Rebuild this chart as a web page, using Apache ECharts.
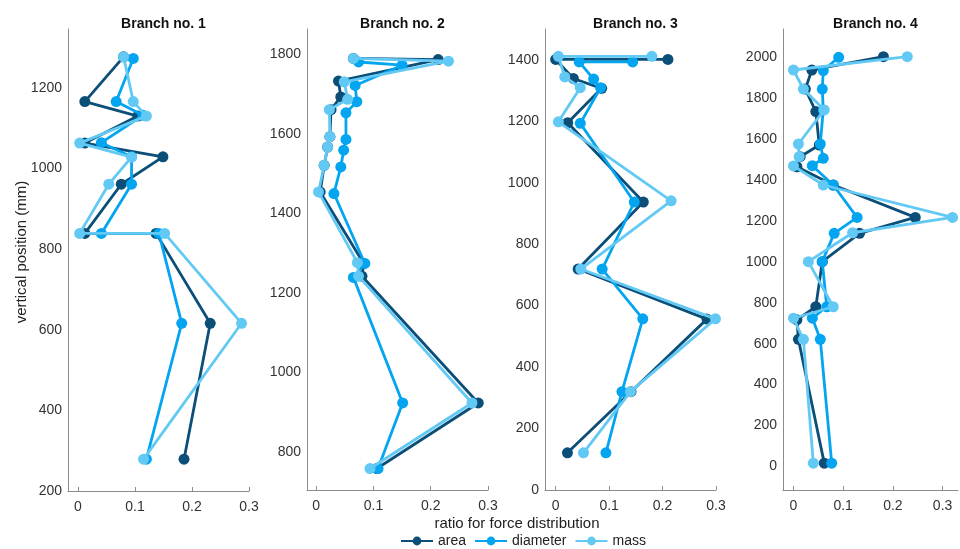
<!DOCTYPE html>
<html>
<head>
<meta charset="utf-8">
<script src="https://cdn.jsdelivr.net/npm/echarts@6/dist/echarts.min.js"></script>
<style>
html,body{margin:0;padding:0;background:#fff;}
#main{width:960px;height:549px;}
</style>
</head>
<body>
<div id="main"></div>
<script>
// ---- data ----
const seriesNames = ['area', 'diameter', 'mass'];
const panelTitles = ['Branch no. 1', 'Branch no. 2', 'Branch no. 3', 'Branch no. 4'];
const xTicks = [0, 0.1, 0.2, 0.3];
const yTicks1 = [200, 400, 600, 800, 1000, 1200];
const yTicks2 = [800, 1000, 1200, 1400, 1600, 1800];
const yTicks3 = [0, 200, 400, 600, 800, 1000, 1200, 1400];
const yTicks4 = [0, 200, 400, 600, 800, 1000, 1200, 1400, 1600, 1800, 2000];

// Branch 1
const b1AreaX = [0.080, 0.012, 0.105, 0.012, 0.149, 0.076, 0.012, 0.137, 0.232, 0.186];
const b1AreaY = [1277, 1166, 1130, 1063, 1029, 961, 839, 839, 616, 279];
const b1DiamX = [0.097, 0.067, 0.114, 0.041, 0.094, 0.094, 0.041, 0.142, 0.182, 0.120];
const b1DiamY = [1273, 1166, 1132, 1064, 1029, 961, 839, 839, 616, 279];
const b1MassX = [0.080, 0.097, 0.120, 0.003, 0.094, 0.054, 0.003, 0.152, 0.287, 0.115];
const b1MassY = [1277, 1166, 1130, 1063, 1028, 961, 839, 839, 616, 279];

// Branch 2
const b2AreaX = [0.065, 0.213, 0.039, 0.043, 0.026, 0.024, 0.020, 0.014, 0.007, 0.083, 0.080, 0.283, 0.106];
const b2AreaY = [1790, 1787, 1733, 1693, 1661, 1593, 1567, 1521, 1454, 1274, 1242, 923, 758];
const b2DiamX = [0.074, 0.150, 0.068, 0.071, 0.052, 0.052, 0.048, 0.043, 0.031, 0.085, 0.065, 0.151, 0.108];
const b2DiamY = [1781, 1773, 1722, 1681, 1653, 1586, 1559, 1517, 1450, 1274, 1239, 923, 758];
const b2MassX = [0.065, 0.231, 0.049, 0.055, 0.023, 0.024, 0.020, 0.014, 0.004, 0.072, 0.074, 0.272, 0.094];
const b2MassY = [1790, 1783, 1731, 1687, 1661, 1593, 1567, 1521, 1454, 1276, 1242, 923, 758];

// Branch 3
const b3AreaX = [0.210, 0.000, 0.033, 0.086, 0.0225, 0.164, 0.042, 0.283, 0.141, 0.022];
const b3AreaY = [1401, 1401, 1339, 1307, 1195, 937, 719, 556, 320, 121];
const b3DiamX = [0.144, 0.044, 0.071, 0.084, 0.046, 0.147, 0.087, 0.163, 0.124, 0.094];
const b3DiamY = [1393, 1393, 1337, 1309, 1193, 937, 719, 557, 320, 121];
const b3MassX = [0.180, 0.005, 0.017, 0.046, 0.005, 0.216, 0.047, 0.299, 0.140, 0.052];
const b3MassY = [1411, 1411, 1344, 1309, 1198, 941, 719, 557, 320, 121];

// Branch 4
const b4AreaX = [0.181, 0.037, 0.024, 0.045, 0.052, 0.0135, 0.007, 0.080, 0.245, 0.133, 0.058, 0.045, 0.007, 0.010, 0.062];
const b4AreaY = [2000, 1935, 1842, 1732, 1569, 1512, 1463, 1374, 1216, 1138, 1000, 780, 716, 621, 17];
const b4DiamX = [0.091, 0.060, 0.058, 0.060, 0.054, 0.060, 0.038, 0.080, 0.128, 0.082, 0.058, 0.067, 0.038, 0.054, 0.077];
const b4DiamY = [1997, 1932, 1842, 1740, 1574, 1504, 1468, 1374, 1216, 1138, 1000, 780, 724, 621, 17];
const b4MassX = [0.229, 0.000, 0.020, 0.062, 0.010, 0.0115, 0.000, 0.060, 0.320, 0.119, 0.030, 0.080, 0.000, 0.020, 0.040];
const b4MassY = [2000, 1935, 1842, 1740, 1574, 1512, 1467, 1374, 1216, 1141, 1000, 780, 724, 621, 17];

// ---- layout / style ----
const colors = ['#0b4e78', '#04a5f0', '#62c9f4'];
const FONT = "'Liberation Sans', Arial, Helvetica, sans-serif";
const grids = [
  {left: 68, top: 29, width: 181, height: 462},
  {left: 307, top: 29, width: 181, height: 461},
  {left: 545, top: 29, width: 171, height: 461},
  {left: 783, top: 29, width: 175, height: 461}
];
const xRanges = [[-0.0175, 0.3], [-0.016, 0.3], [-0.02, 0.3], [-0.021, 0.331]];
const yRanges = [[200, 1346], [704, 1864], [0, 1500], [-114, 2135]];
const yTickSets = [yTicks1, yTicks2, yTicks3, yTicks4];

const panels = [
  [[b1AreaX, b1AreaY], [b1DiamX, b1DiamY], [b1MassX, b1MassY]],
  [[b2AreaX, b2AreaY], [b2DiamX, b2DiamY], [b2MassX, b2MassY]],
  [[b3AreaX, b3AreaY], [b3DiamX, b3DiamY], [b3MassX, b3MassY]],
  [[b4AreaX, b4AreaY], [b4DiamX, b4DiamY], [b4MassX, b4MassY]]
];

const axisColor = '#8c8c8c';
const labelColor = '#333333';

const xAxes = [], yAxes = [], series = [], titles = [];
panels.forEach((p, i) => {
  xAxes.push({
    type: 'value', gridIndex: i, min: xRanges[i][0], max: xRanges[i][1],
    axisLine: {show: true, onZero: false, lineStyle: {color: axisColor, width: 1}},
    axisTick: {show: true, inside: true, length: 4, customValues: xTicks, lineStyle: {color: axisColor}},
    axisLabel: {customValues: xTicks, color: labelColor, fontSize: 14, fontFamily: FONT, margin: 9,
      formatter: v => String(+(+v).toFixed(1))},
    splitLine: {show: false}
  });
  yAxes.push({
    type: 'value', gridIndex: i, min: yRanges[i][0], max: yRanges[i][1],
    axisLine: {show: true, onZero: false, lineStyle: {color: axisColor, width: 1}},
    axisTick: {show: false},
    axisLabel: {customValues: yTickSets[i], color: labelColor, fontSize: 14, fontFamily: FONT, margin: 6,
      formatter: v => String(Math.round(+v))},
    splitLine: {show: false}
  });
  titles.push({
    text: panelTitles[i],
    left: grids[i].left + grids[i].width / 2,
    textAlign: 'center',
    top: 12,
    textStyle: {fontSize: 14, fontWeight: 'bold', color: '#111', fontFamily: FONT}
  });
  p.forEach((s, k) => {
    series.push({
      type: 'line', name: seriesNames[k], xAxisIndex: i, yAxisIndex: i,
      data: s[0].map((x, j) => [x, s[1][j]]),
      symbol: 'circle', symbolSize: 11, clip: false,
      lineStyle: {color: colors[k], width: 2.8},
      itemStyle: {color: colors[k]},
      emphasis: {disabled: true},
      z: 2 + k
    });
  });
});

const chart = echarts.init(document.getElementById('main'), null, {renderer: 'canvas'});
chart.setOption({
  animation: false,
  backgroundColor: '#fff',
  color: colors,
  title: titles,
  grid: grids,
  xAxis: xAxes,
  yAxis: yAxes,
  series: series,
  legend: {
    data: seriesNames,
    left: 400, top: 534,
    itemWidth: 32, itemHeight: 11, itemGap: 8,
    textStyle: {fontSize: 14, color: '#222', fontFamily: FONT},
    padding: 0
  },
  graphic: [
    {type: 'text', x: 517, y: 524, style: {text: 'ratio for force distribution', fill: '#222', font: '15px ' + FONT, align: 'center', verticalAlign: 'middle'}},
    {type: 'text', x: 22, y: 252, rotation: Math.PI / 2, style: {text: 'vertical position (mm)', fill: '#222', font: '15px ' + FONT, align: 'center', verticalAlign: 'middle'}}
  ]
});
</script>
</body>
</html>
